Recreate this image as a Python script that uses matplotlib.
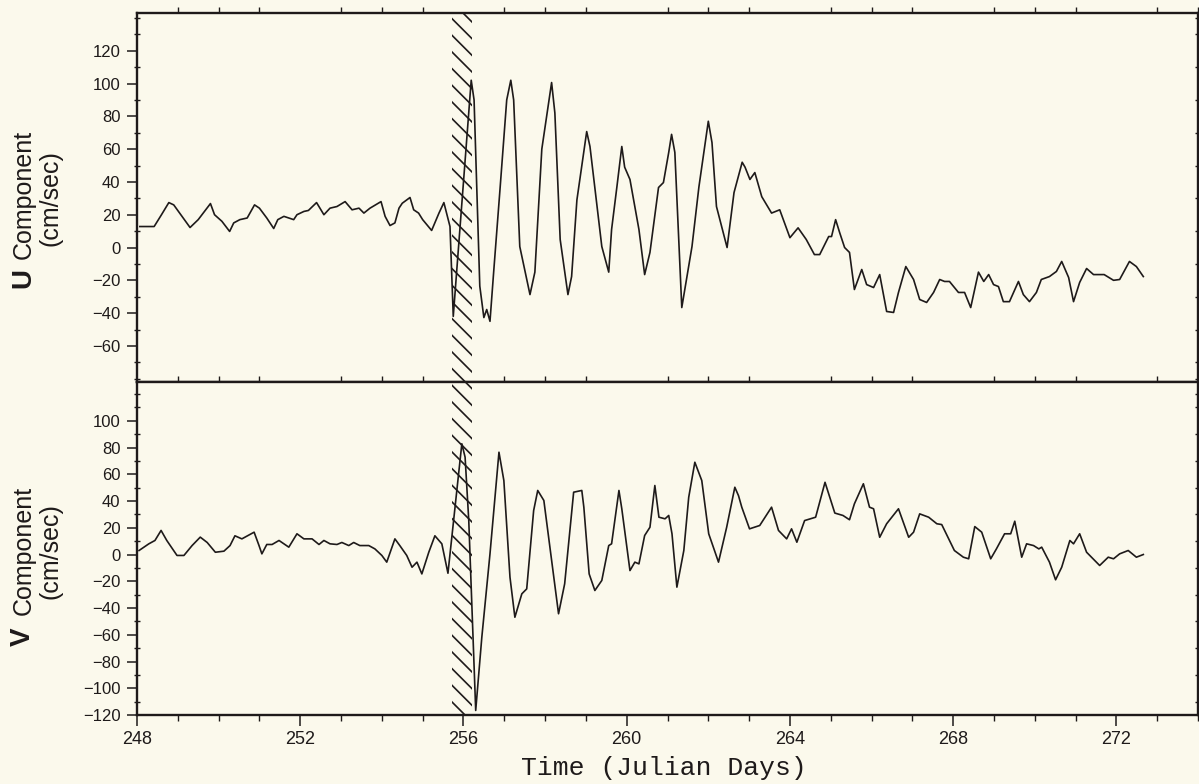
import matplotlib
matplotlib.use("Agg")
import matplotlib.pyplot as plt
from matplotlib.ticker import MultipleLocator, FixedLocator
from matplotlib.patches import Rectangle
import matplotlib.transforms as mtransforms

# ---------------- data ----------------
u_day = [248.07, 248.42, 248.6, 248.78, 248.9, 249.3, 249.5, 249.8, 249.9, 250.08,
         250.27, 250.37, 250.52, 250.7, 250.88, 251.0, 251.18, 251.35, 251.45, 251.6,
         251.72, 251.84, 251.92, 252.09, 252.2, 252.4, 252.58, 252.73, 252.9, 253.1,
         253.27, 253.44, 253.56, 253.71, 253.98, 254.08, 254.2, 254.32, 254.42, 254.5,
         254.69, 254.78, 254.9, 255.0, 255.22, 255.4, 255.52, 255.67, 255.75, 256.19,
         256.26, 256.4, 256.5, 256.57, 256.65, 256.74, 256.9, 257.06, 257.16, 257.23,
         257.38, 257.63, 257.75, 257.92, 258.16, 258.24, 258.37, 258.56, 258.65, 258.78,
         259.02, 259.1, 259.39, 259.56, 259.63, 259.76, 259.88, 259.95, 260.08, 260.3,
         260.44, 260.57, 260.78, 260.9, 261.03, 261.1, 261.18, 261.35, 261.6, 261.77,
         262.0, 262.09, 262.2, 262.46, 262.63, 262.83, 262.9, 263.02, 263.14, 263.31,
         263.55, 263.75, 264.0, 264.2, 264.4, 264.6, 264.73, 264.95, 265.02, 265.12,
         265.22, 265.34, 265.46, 265.58, 265.76, 265.88, 266.05, 266.2, 266.37, 266.54,
         266.66, 266.84, 267.03, 267.18, 267.35, 267.52, 267.67, 267.79, 267.91, 268.13,
         268.28, 268.43, 268.62, 268.75, 268.87, 268.99, 269.11, 269.23, 269.38, 269.6,
         269.72, 269.87, 270.04, 270.16, 270.36, 270.53, 270.66, 270.83, 270.95, 271.1,
         271.27, 271.44, 271.7, 271.93, 272.08, 272.32, 272.49, 272.66]
u_val = [12.8, 12.8, 20.0, 27.4, 26.0, 12.2, 17.0, 26.8, 20.0, 16.0,
         9.8, 15.0, 17.0, 18.0, 26.0, 24.0, 18.0, 11.6, 17.0, 19.0,
         18.0, 17.0, 20.0, 22.0, 22.6, 27.4, 20.0, 24.0, 25.0, 28.0,
         23.0, 24.0, 21.0, 24.0, 28.0, 19.0, 13.4, 15.0, 24.0, 27.0,
         30.5, 23.0, 21.0, 17.0, 10.4, 21.0, 27.4, 12.8, -42.0, 102.0,
         90.0, -23.5, -42.7, -37.8, -45.0, -15.0, 37.0, 90.0, 102.0, 90.0,
         0.6, -28.7, -15.0, 60.0, 100.6, 82.0, 4.9, -28.7, -17.7, 29.0,
         70.7, 61.6, 0.6, -15.0, 11.0, 37.0, 61.6, 49.0, 41.5, 11.0,
         -16.5, -3.0, 36.6, 39.6, 58.0, 69.0, 58.0, -36.6, 0.6, 37.0,
         77.0, 64.0, 25.0, 0.0, 33.5, 52.0, 49.0, 41.5, 45.7, 31.0,
         21.0, 23.0, 6.0, 12.0, 4.9, -4.3, -4.3, 6.7, 6.7, 17.0,
         9.0, 0.0, -3.0, -25.6, -13.4, -22.6, -24.4, -16.5, -39.0, -39.6,
         -27.4, -11.6, -19.5, -31.7, -33.5, -27.4, -19.5, -20.7, -20.7, -27.4,
         -27.4, -36.6, -15.0, -20.7, -16.5, -22.6, -23.8, -33.0, -33.0, -20.7,
         -28.7, -33.0, -27.4, -19.5, -17.7, -14.6, -8.5, -18.3, -33.0, -21.3,
         -12.8, -16.5, -16.5, -20.0, -19.5, -8.5, -11.6, -17.7]

v_day = [248.05, 248.29, 248.44, 248.59, 248.73, 248.98, 249.15, 249.35, 249.55, 249.72,
         249.92, 250.13, 250.28, 250.4, 250.57, 250.87, 250.99, 251.06, 251.18, 251.31,
         251.48, 251.72, 251.92, 252.09, 252.29, 252.46, 252.58, 252.73, 252.9, 253.02,
         253.19, 253.31, 253.46, 253.68, 253.83, 254.0, 254.12, 254.32, 254.44, 254.61,
         254.74, 254.86, 254.98, 255.15, 255.3, 255.47, 255.62, 255.96, 256.04, 256.13,
         256.3, 256.45, 256.65, 256.87, 256.99, 257.14, 257.26, 257.43, 257.55, 257.72,
         257.82, 257.97, 258.33, 258.48, 258.7, 258.9, 258.95, 259.08, 259.22, 259.39,
         259.56, 259.63, 259.81, 259.88, 260.08, 260.2, 260.3, 260.44, 260.57, 260.69,
         260.79, 260.94, 261.03, 261.11, 261.23, 261.4, 261.52, 261.67, 261.84, 262.01,
         262.25, 262.45, 262.65, 262.74, 262.82, 263.01, 263.26, 263.55, 263.72, 263.92,
         264.04, 264.17, 264.36, 264.63, 264.86, 265.1, 265.3, 265.46, 265.58, 265.8,
         265.95, 266.05, 266.2, 266.37, 266.66, 266.91, 267.03, 267.18, 267.4, 267.6,
         267.72, 268.03, 268.25, 268.38, 268.53, 268.7, 268.92, 269.06, 269.26, 269.41,
         269.51, 269.68, 269.8, 269.97, 270.1, 270.17, 270.36, 270.51, 270.66, 270.86,
         270.95, 271.1, 271.27, 271.59, 271.8, 271.93, 272.08, 272.29, 272.49, 272.66]
v_val = [3.0, 8.0, 10.5, 18.0, 10.5, -0.7, -0.7, 6.7, 13.0, 9.0,
         1.7, 2.5, 6.7, 14.0, 11.7, 16.7, 6.7, 0.5, 7.5, 7.5,
         10.5, 5.5, 15.5, 11.7, 11.7, 7.5, 10.5, 8.0, 7.5, 9.0,
         6.7, 9.0, 6.7, 6.7, 4.2, -0.7, -5.7, 11.7, 6.7, -0.7,
         -9.5, -5.7, -14.5, 1.7, 14.0, 8.0, -14.0, 82.8, 72.8, 25.4,
         -116.6, -61.8, 0.5, 76.5, 55.3, -17.0, -46.9, -29.4, -25.7, 32.9,
         47.9, 40.4, -44.3, -21.9, 46.6, 47.9, 35.4, -14.5, -26.9, -19.4,
         6.7, 8.0, 47.9, 34.2, -12.0, -5.7, -7.0, 14.2, 20.4, 51.6,
         27.9, 26.7, 29.2, 15.5, -24.4, 3.0, 42.8, 69.0, 55.3, 15.5,
         -5.7, 20.4, 50.3, 44.0, 35.4, 19.2, 21.7, 35.4, 18.0, 11.7,
         19.2, 9.2, 25.4, 27.9, 54.0, 31.0, 29.2, 26.0, 37.9, 52.9,
         35.4, 34.2, 12.9, 23.0, 34.2, 12.9, 16.7, 30.4, 27.9, 23.0,
         22.4, 3.0, -2.0, -3.2, 20.9, 16.7, -3.2, 4.2, 15.5, 15.5,
         24.9, -2.0, 8.0, 6.7, 4.2, 5.5, -5.7, -18.9, -9.5, 10.5,
         8.0, 15.5, 1.7, -8.2, -2.0, -3.2, 0.5, 3.0, -2.0, 0.0]

u_ticks = [-60, -40, -20, 0, 20, 40, 60, 80, 100, 120]
v_ticks = [-120, -100, -80, -60, -40, -20, 0, 20, 40, 60, 80, 100]
x_ticks = [248, 252, 256, 260, 264, 268, 272]
event_span = (255.72, 256.2)

# ---------------- styling ----------------
BG = "#FBF9EC"
INK = "#1e1a1a"
W, H = 1199, 784
plt.rcParams["axes.unicode_minus"] = True
plt.rcParams["hatch.linewidth"] = 1.2
plt.rcParams["hatch.color"] = INK

fig = plt.figure(figsize=(W / 100, H / 100), dpi=100, facecolor=BG)

def px_rect(x0, y0, x1, y1):
    return [x0 / W, 1 - y1 / H, (x1 - x0) / W, (y1 - y0) / H]

ax1 = fig.add_axes(px_rect(137, 13, 1198, 382))
ax2 = fig.add_axes(px_rect(137, 382, 1198, 715), sharex=ax1)

for ax in (ax1, ax2):
    ax.set_facecolor(BG)
    for s in ax.spines.values():
        s.set_linewidth(1.7)
        s.set_color(INK)
    ax.xaxis.set_minor_locator(MultipleLocator(1))
    ax.yaxis.set_minor_locator(MultipleLocator(10))
    ax.tick_params(axis="y", which="major", direction="out", length=7, width=1.1,
                   colors=INK, labelsize=12, pad=5, left=True, right=False)
    ax.tick_params(axis="y", which="minor", direction="inout", length=4, width=1,
                   colors=INK, left=True, right=True)
    ax.tick_params(axis="x", which="major", direction="out", length=8, width=1.1,
                   colors=INK, labelsize=13, top=False)
    ax.tick_params(axis="x", which="minor", direction="out", length=4, width=1,
                   colors=INK, top=True)

ax1.plot(u_day, u_val, color=INK, lw=1.2)
ax2.plot(v_day, v_val, color=INK, lw=1.2)

ax1.set_xlim(248, 274)
ax1.set_ylim(-82, 143)
ax2.set_ylim(-120, 129)
ax1.yaxis.set_major_locator(FixedLocator(u_ticks))
ax2.yaxis.set_major_locator(FixedLocator(v_ticks))
ax2.xaxis.set_major_locator(FixedLocator(x_ticks))
ax1.tick_params(axis="x", which="both", labelbottom=False)
for ax in (ax1, ax2):
    for lab in ax.get_yticklabels() + ax.get_xticklabels():
        lab.set_fontfamily("Liberation Sans")

# hatched event band spanning both panels
trans = mtransforms.blended_transform_factory(ax2.transData, fig.transFigure)
band = Rectangle((event_span[0], 1 - 715 / H), event_span[1] - event_span[0],
                 (715 - 13) / H, transform=trans, fill=False,
                 edgecolor=INK, linewidth=0, hatch="\\\\", zorder=5)
fig.add_artist(band)

# axis labels
def fx(x):
    return x / W

def fy(y):
    return 1 - y / H

LBL = dict(rotation=90, ha="center", va="center", family="Liberation Sans", color=INK)
fig.text(fx(23), fy(278), "U", fontsize=20, fontweight="bold", **LBL)
fig.text(fx(24), fy(194), "Component", fontsize=18, **LBL)
fig.text(fx(51), fy(198), "(cm/sec)", fontsize=18, **LBL)

fig.text(fx(23), fy(637), "V", fontsize=20, fontweight="bold", **LBL)
fig.text(fx(24), fy(550), "Component", fontsize=18, **LBL)
fig.text(fx(51), fy(551), "(cm/sec)", fontsize=18, **LBL)

fig.text(fx(664), fy(768), "Time (Julian Days)", ha="center", va="center",
         fontsize=19, family="Liberation Mono", color=INK)

fig.savefig("out.png", dpi=100, facecolor=BG)
